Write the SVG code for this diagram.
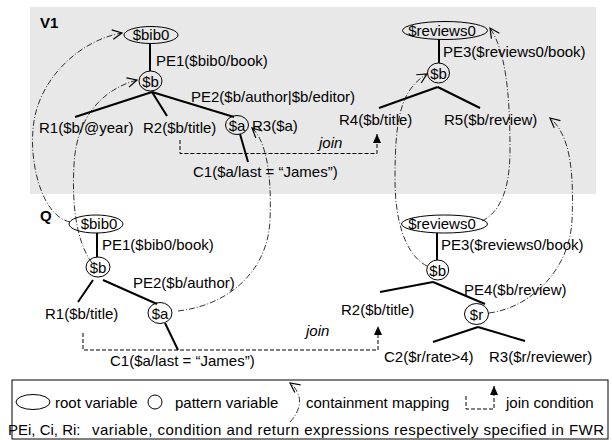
<svg xmlns="http://www.w3.org/2000/svg" width="612" height="440" viewBox="0 0 612 440">
<style>
text{font-family:"Liberation Sans",Arial,sans-serif;font-size:15px;fill:#000}
.c{text-anchor:middle}
.b{font-weight:bold}
.i{font-style:italic}
.n{fill:none;stroke:#000;stroke-width:1}
.e{stroke:#000;stroke-width:2;fill:none}
.j{fill:none;stroke:#000;stroke-width:1;stroke-dasharray:4,2}
.m{fill:none;stroke:#000;stroke-width:0.8;stroke-dasharray:6,2,1,2}
</style>
<defs>
<marker id="oa" markerUnits="userSpaceOnUse" markerWidth="12" markerHeight="12" viewBox="0 0 10 10" refX="9" refY="5" orient="auto">
<path d="M1,1 L9,5 L1,9" fill="none" stroke="#000" stroke-width="1"/>
</marker>
<marker id="ta" markerUnits="userSpaceOnUse" markerWidth="10" markerHeight="10" viewBox="0 0 10 10" refX="9" refY="5" orient="auto">
<path d="M0,1 L9,5 L0,9 Z" fill="#000"/>
</marker>
</defs>
<rect x="30" y="7" width="566" height="187" fill="#e8e8e8"/>
<text x="40" y="28" class="b">V1</text>
<text x="40" y="220.5" class="b">Q</text>

<g id="edges">
<line class="e" x1="150" y1="43.5" x2="150" y2="71"/>
<line class="e" x1="152" y1="92" x2="75" y2="117"/>
<line class="e" x1="152" y1="92" x2="167" y2="116"/>
<line class="e" x1="152" y1="92" x2="234" y2="117"/>
<line class="e" x1="240" y1="134" x2="248" y2="162"/>
<line class="e" x1="439" y1="39.5" x2="439" y2="63"/>
<line class="e" x1="437.7" y1="87" x2="379" y2="108"/>
<line class="e" x1="437.7" y1="87" x2="480" y2="108"/>
<line class="e" x1="97" y1="233" x2="97" y2="257"/>
<line class="e" x1="93" y1="280" x2="78" y2="302"/>
<line class="e" x1="103" y1="280" x2="157" y2="304"/>
<line class="e" x1="165" y1="323" x2="178" y2="350"/>
<line class="e" x1="437" y1="233" x2="437" y2="260"/>
<line class="e" x1="433" y1="282" x2="380" y2="292"/>
<line class="e" x1="433" y1="282" x2="485" y2="304"/>
<line class="e" x1="478" y1="327" x2="433" y2="342"/>
<line class="e" x1="478" y1="327" x2="525" y2="341"/>
<polyline class="j" points="180,140 180,153.5 377,153.5 377,134" marker-end="url(#ta)"/>
<polyline class="j" points="83,333 83,350 378,350 378,326" marker-end="url(#ta)"/>
<path class="m" d="M70,222 C40,215 30,160 33,130 C36,80 80,40 122,33" marker-end="url(#oa)"/>
<path class="m" d="M92,263 C75,240 72,200 74,165 C76,120 100,90 137,80" marker-end="url(#oa)"/>
<path class="m" d="M178,311 C230,305 268,270 270,220 C272,170 265,140 252,128" marker-end="url(#oa)"/>
<path class="m" d="M427,266 C405,255 395,220 395,180 C395,120 400,90 427,74" marker-end="url(#oa)"/>
<path class="m" d="M482,221 C500,212 510,190 510,150 C510,90 505,50 490,28" marker-end="url(#oa)"/>
<path class="m" d="M489,313 C530,308 570,270 572,220 C574,170 570,135 550,118" marker-end="url(#oa)"/>
</g>

<g id="v1-bib0"><ellipse class="n" cx="151" cy="35" rx="27" ry="8.5"/><text x="151" y="40" class="c">$bib0</text></g>
<g id="v1-pe1"><text x="156" y="65.5">PE1($bib0/book)</text></g>
<g id="v1-b"><ellipse class="n" cx="150.5" cy="81" rx="11.5" ry="10"/><text x="150.5" y="86.5" class="c">$b</text></g>
<g id="v1-pe2"><text x="191" y="102">PE2($b/author|$b/editor)</text></g>
<g id="v1-r1"><text x="39" y="132.5">R1($b/@year)</text></g>
<g id="v1-r2"><text x="143" y="132.5">R2($b/title)</text></g>
<g id="v1-a"><ellipse class="n" cx="237" cy="125" rx="11.5" ry="9.5"/><text x="237" y="130.5" class="c">$a</text></g>
<g id="v1-r3"><text x="252" y="130.5">R3($a)</text></g>
<g id="v1-c1"><text x="193" y="177">C1($a/last = “James”)</text></g>
<g id="v1-join"><text x="319" y="148" class="i">join</text></g>

<g id="v1-reviews0"><ellipse class="n" cx="445" cy="30.5" rx="42.5" ry="9"/><text x="442" y="35.5" class="c">$reviews0</text></g>
<g id="v1-pe3"><text x="443" y="57">PE3($reviews0/book)</text></g>
<g id="v1-b2"><ellipse class="n" cx="438.5" cy="73" rx="11" ry="10"/><text x="438.5" y="78.5" class="c">$b</text></g>
<g id="v1-r4"><text x="339" y="124.5">R4($b/title)</text></g>
<g id="v1-r5"><text x="444" y="124.5">R5($b/review)</text></g>

<g id="q-bib0"><ellipse class="n" cx="96" cy="224" rx="27" ry="9"/><text x="99" y="229" class="c">$bib0</text></g>
<g id="q-pe1"><text x="102" y="250">PE1($bib0/book)</text></g>
<g id="q-b"><ellipse class="n" cx="98" cy="267" rx="12" ry="10"/><text x="98" y="272.5" class="c">$b</text></g>
<g id="q-pe2"><text x="133" y="288">PE2($b/author)</text></g>
<g id="q-r1"><text x="45" y="319">R1($b/title)</text></g>
<g id="q-a"><ellipse class="n" cx="160" cy="313" rx="12" ry="10.5"/><text x="160" y="318.5" class="c">$a</text></g>
<g id="q-c1"><text x="110" y="366">C1($a/last = “James”)</text></g>
<g id="q-join"><text x="306" y="336" class="i">join</text></g>

<g id="q-reviews0"><ellipse class="n" cx="444.5" cy="224" rx="43" ry="9"/><text x="442" y="228.5" class="c">$reviews0</text></g>
<g id="q-pe3"><text x="441" y="250">PE3($reviews0/book)</text></g>
<g id="q-b2"><ellipse class="n" cx="437.7" cy="270" rx="11" ry="10"/><text x="437.7" y="275.5" class="c">$b</text></g>
<g id="q-r2"><text x="341" y="315">R2($b/title)</text></g>
<g id="q-pe4"><text x="464" y="295">PE4($b/review)</text></g>
<g id="q-r"><ellipse class="n" cx="476.5" cy="314" rx="12" ry="10.5"/><text x="476.5" y="319.5" class="c">$r</text></g>
<g id="q-c2"><text x="384" y="362">C2($r/rate&gt;4)</text></g>
<g id="q-r3"><text x="489" y="362">R3($r/reviewer)</text></g>

<g id="legend">
<rect x="12" y="380" width="596" height="59" class="n"/>
<ellipse class="n" cx="33" cy="402" rx="17" ry="7.5"/>
<text x="55" y="408">root variable</text>
<circle class="n" cx="155" cy="402" r="7"/>
<text x="175" y="408">pattern variable</text>
<path class="m" d="M290,422 C298,414 302,402 298,394 C296,389 294,386 290,383" marker-end="url(#oa)"/>
<text x="306" y="408">containment mapping</text>
<polyline class="j" points="466,396 466,409 494,409 494,386" marker-end="url(#ta)"/>
<text x="506" y="408">join condition</text>
<text x="8" y="435">PEi, Ci, Ri:</text>
<text x="92" y="435" textLength="512" lengthAdjust="spacing">variable, condition and return expressions respectively specified in FWR</text>
</g>
</svg>
